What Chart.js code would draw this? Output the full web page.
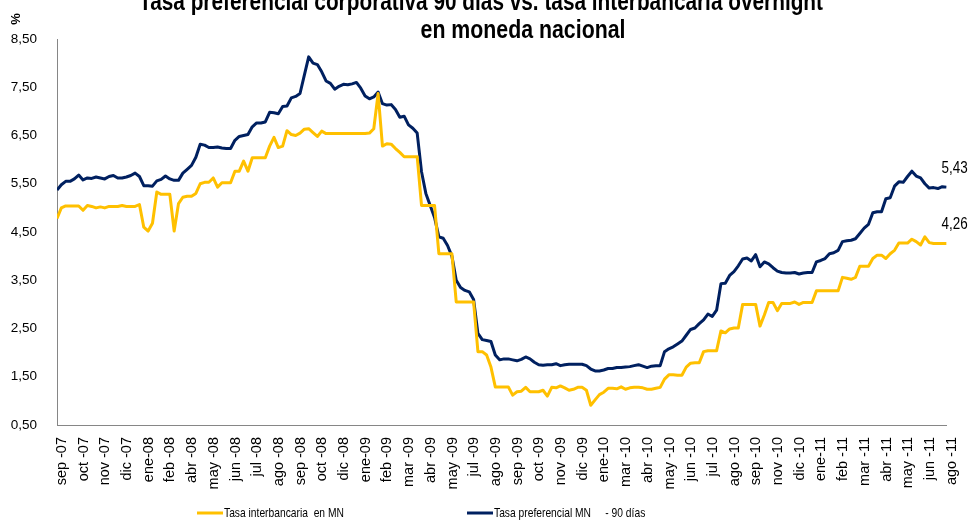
<!DOCTYPE html>
<html lang="es">
<head>
<meta charset="utf-8" />
<title>Tasa preferencial corporativa 90 días vs. tasa interbancaria overnight</title>
<script src="https://cdn.jsdelivr.net/npm/chart.js"></script>
<style>
    body { margin: 0; background: #fff; }
    #wrap { position: relative; width: 976px; height: 528px; }
</style>
</head>
<body>
<div id="wrap"><canvas id="chart"></canvas></div>
<script>
// etiquetas del eje x, una cada 5 semanas
var tickLabels = ['sep -07', 'oct -07', 'nov -07', 'dic -07', 'ene-08', 'feb -08', 'abr -08', 'may -08', 'jun -08', 'jul -08',
    'ago -08', 'sep -08', 'oct -08', 'dic -08', 'ene-09', 'feb -09', 'mar -09', 'abr -09', 'may -09', 'jul -09',
    'ago -09', 'sep -09', 'oct -09', 'nov -09', 'dic -09', 'ene-10', 'mar -10', 'abr -10', 'may -10', 'jun -10',
    'jul -10', 'ago -10', 'sep -10', 'nov -10', 'dic -10', 'ene-11', 'feb -11', 'mar -11', 'abr -11', 'may -11',
    'jun -11', 'ago -11'];

// datos semanales
var interbancaria = [
    4.78, 5.00, 5.04, 5.04, 5.04, 5.04, 4.95, 5.05, 5.03, 5.00,
    5.02, 5.00, 5.03, 5.03, 5.03, 5.05, 5.03, 5.03, 5.03, 5.07,
    4.60, 4.52, 4.68, 5.33, 5.28, 5.28, 5.28, 4.52, 5.09, 5.22,
    5.24, 5.24, 5.30, 5.50, 5.53, 5.53, 5.62, 5.43, 5.52, 5.52,
    5.52, 5.76, 5.76, 5.97, 5.76, 6.04, 6.04, 6.04, 6.04, 6.28,
    6.46, 6.25, 6.28, 6.60, 6.52, 6.50, 6.55, 6.63, 6.64, 6.56,
    6.48, 6.59, 6.54, 6.54, 6.54, 6.54, 6.54, 6.54, 6.54, 6.54,
    6.54, 6.54, 6.55, 6.64, 7.37, 6.28, 6.33, 6.32, 6.23, 6.15,
    6.06, 6.06, 6.06, 6.06, 5.05, 5.05, 5.05, 5.05, 4.05, 4.05,
    4.05, 4.05, 3.05, 3.05, 3.05, 3.05, 3.05, 2.02, 2.02, 1.95,
    1.70, 1.29, 1.29, 1.29, 1.29, 1.12, 1.19, 1.20, 1.28, 1.19,
    1.19, 1.19, 1.22, 1.10, 1.28, 1.27, 1.31, 1.27, 1.22, 1.24,
    1.28, 1.28, 1.22, 0.91, 1.02, 1.13, 1.18, 1.26, 1.26, 1.25,
    1.29, 1.24, 1.27, 1.28, 1.28, 1.27, 1.24, 1.24, 1.26, 1.28,
    1.45, 1.54, 1.54, 1.53, 1.53, 1.70, 1.78, 1.79, 1.79, 2.02,
    2.04, 2.04, 2.04, 2.45, 2.41, 2.49, 2.51, 2.51, 3.00, 3.00,
    3.00, 3.00, 2.55, 2.78, 3.04, 3.04, 2.87, 3.02, 3.02, 3.02,
    3.05, 3.00, 3.04, 3.04, 3.04, 3.28, 3.28, 3.28, 3.28, 3.28,
    3.28, 3.56, 3.54, 3.52, 3.56, 3.79, 3.79, 3.79, 3.95, 4.02,
    4.02, 3.95, 4.05, 4.12, 4.27, 4.27, 4.27, 4.35, 4.30, 4.23,
    4.40, 4.28, 4.26, 4.26, 4.26, 4.26
];

var preferencial = [
    5.37, 5.48, 5.55, 5.55, 5.60, 5.68, 5.58, 5.62, 5.61, 5.64,
    5.62, 5.60, 5.65, 5.67, 5.62, 5.62, 5.64, 5.67, 5.72, 5.65,
    5.46, 5.46, 5.45, 5.56, 5.59, 5.66, 5.60, 5.57, 5.57, 5.72,
    5.80, 5.88, 6.05, 6.32, 6.30, 6.25, 6.25, 6.26, 6.24, 6.23,
    6.23, 6.40, 6.48, 6.50, 6.52, 6.68, 6.76, 6.76, 6.78, 6.98,
    6.97, 6.95, 7.10, 7.11, 7.28, 7.31, 7.37, 7.75, 8.13, 8.00,
    7.97, 7.82, 7.63, 7.58, 7.46, 7.52, 7.56, 7.55, 7.57, 7.60,
    7.48, 7.32, 7.26, 7.30, 7.40, 7.16, 7.13, 7.14, 7.04, 6.88,
    6.90, 6.72, 6.65, 6.55, 5.75, 5.30, 5.05, 4.80, 4.40, 4.37,
    4.22, 4.00, 3.50, 3.35, 3.29, 3.26, 3.10, 2.40, 2.27, 2.25,
    2.23, 1.95, 1.85, 1.87, 1.87, 1.85, 1.83, 1.86, 1.91, 1.87,
    1.80, 1.75, 1.74, 1.75, 1.75, 1.77, 1.73, 1.75, 1.76, 1.76,
    1.76, 1.76, 1.73, 1.66, 1.62, 1.62, 1.64, 1.67, 1.67, 1.69,
    1.69, 1.70, 1.71, 1.73, 1.75, 1.72, 1.69, 1.72, 1.73, 1.73,
    2.02, 2.08, 2.12, 2.18, 2.24, 2.36, 2.48, 2.51, 2.60, 2.68,
    2.80, 2.75, 2.88, 3.43, 3.44, 3.60, 3.68, 3.80, 3.94, 3.96,
    3.90, 4.03, 3.78, 3.88, 3.84, 3.76, 3.69, 3.66, 3.65, 3.65,
    3.66, 3.63, 3.65, 3.66, 3.66, 3.88, 3.91, 3.95, 4.05, 4.07,
    4.12, 4.30, 4.32, 4.33, 4.36, 4.47, 4.58, 4.66, 4.90, 4.92,
    4.92, 5.19, 5.21, 5.45, 5.54, 5.53, 5.65, 5.76, 5.66, 5.62,
    5.50, 5.41, 5.42, 5.40, 5.44, 5.43
];

var seriesNames = ['Tasa interbancaria  en MN', 'Tasa preferencial MN     - 90 días'];
var seriesColors = ['#FFC000', '#002060'];

var FONT = "'Liberation Sans', Arial, sans-serif";

function toPoints(arr) {
    return arr.map(function (v, i) { return { x: i, y: v }; });
}
function fmt(v) {
    return v.toFixed(2).replace('.', ',');
}

// texto estrechado a mano, como en el original
function narrowText(ctx, text, x, y, sx) {
    ctx.save();
    ctx.translate(x, y);
    ctx.scale(sx, 1);
    ctx.fillText(text, 0, 0);
    ctx.restore();
}

// titulo, %, leyenda y etiquetas finales
var extras = {
    id: 'extras',
    afterDraw: function (chart) {
        var ctx = chart.ctx;
        ctx.save();
        ctx.fillStyle = '#000';
        ctx.textAlign = 'center';
        ctx.textBaseline = 'alphabetic';
        ctx.font = 'bold 26px ' + FONT;
        narrowText(ctx, 'Tasa preferencial corporativa 90 días vs. tasa interbancaria overnight', 481, 10, 0.8);
        narrowText(ctx, 'en moneda nacional', 523, 38, 0.82);

        ctx.font = 'bold 13px ' + FONT;
        ctx.save();
        ctx.translate(16, 19);
        ctx.rotate(-Math.PI / 2);
        ctx.textBaseline = 'middle';
        ctx.fillText('%', 0, 0);
        ctx.restore();

        // leyenda
        var legendX = [197, 467];
        ctx.font = '13px ' + FONT;
        ctx.textAlign = 'left';
        ctx.textBaseline = 'middle';
        for (var k = 0; k < 2; k++) {
            ctx.strokeStyle = seriesColors[k];
            ctx.lineWidth = 3;
            ctx.beginPath();
            ctx.moveTo(legendX[k], 513);
            ctx.lineTo(legendX[k] + 26, 513);
            ctx.stroke();
            narrowText(ctx, seriesNames[k], legendX[k] + 27, 513, 0.79);
        }

        // valores finales
        ctx.font = '16px ' + FONT;
        chart.data.datasets.forEach(function (ds, k) {
            var meta = chart.getDatasetMeta(k);
            var pt = meta.data[meta.data.length - 1];
            var last = ds.data[ds.data.length - 1].y;
            narrowText(ctx, fmt(last), pt.x - 5, pt.y - 19, 0.84);
        });
        ctx.restore();
    }
};

Chart.defaults.font.family = FONT;
Chart.defaults.color = '#000';

new Chart(document.getElementById('chart'), {
    type: 'line',
    data: {
        datasets: [
            {
                label: seriesNames[0],
                data: toPoints(interbancaria),
                borderColor: seriesColors[0],
                borderWidth: 3,
                pointRadius: 0,
                tension: 0,
                borderJoinStyle: 'round'
            },
            {
                label: seriesNames[1],
                data: toPoints(preferencial),
                borderColor: seriesColors[1],
                borderWidth: 3,
                pointRadius: 0,
                tension: 0,
                borderJoinStyle: 'round'
            }
        ]
    },
    options: {
        responsive: true,
        maintainAspectRatio: false,
        animation: false,
        layout: { padding: { top: 39, right: 23, left: 0, bottom: 0 } },
        plugins: {
            legend: { display: false },
            title: { display: false },
            tooltip: { enabled: false }
        },
        scales: {
            x: {
                type: 'linear',
                min: 0,
                max: preferencial.length - 1,
                grid: { display: false, drawTicks: false },
                border: { display: true, color: '#868686', width: 1 },
                ticks: {
                    stepSize: 5,
                    autoSkip: false,
                    maxRotation: 90,
                    minRotation: 90,
                    padding: 12,
                    labelOffset: 5,
                    font: { size: 14.5 },
                    callback: function (v) { return tickLabels[Math.round(v / 5)]; }
                },
                afterFit: function (scale) { scale.height = 103; }
            },
            y: {
                min: 0.5,
                max: 8.5,
                grid: { display: false, drawTicks: false },
                border: { display: true, color: '#868686', width: 1 },
                ticks: {
                    stepSize: 1,
                    padding: 20,
                    font: { size: 13.5 },
                    callback: function (v) { return fmt(v); }
                },
                afterFit: function (scale) { scale.width = 57; }
            }
        }
    },
    plugins: [extras]
});
</script>
</body>
</html>
